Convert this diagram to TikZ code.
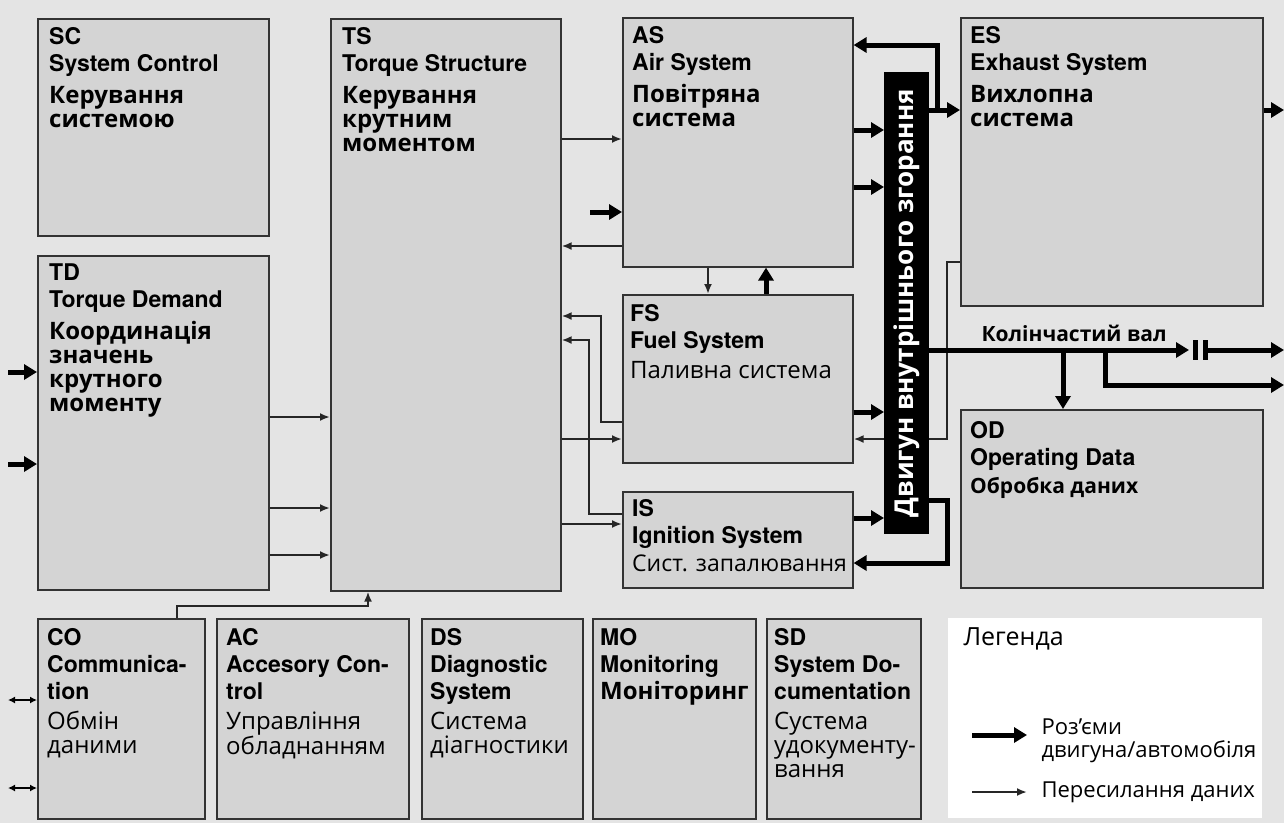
\documentclass[tikz,border=0pt]{standalone}
\usepackage{fontspec}
\setmainfont{Open Sans}
\newfontfamily\helv{TeX Gyre Heros}
\usetikzlibrary{arrows.meta,calc}
\definecolor{paper}{HTML}{E4E4E4}
\definecolor{panel}{HTML}{D4D4D4}
\definecolor{edge}{HTML}{333333}
\tikzset{
  blk/.style={rectangle,draw=edge,line width=1.6pt,fill=panel,anchor=north west,inner sep=0pt},
  lbl/.style={anchor=north west,align=left,inner sep=0pt,font=\bfseries\fontsize{24}{24}\selectfont},
  lblreg/.style={lbl,font=\mdseries\fontsize{24}{24}\selectfont},
  data/.style={-{Latex[length=10pt,width=8pt]},line width=2pt,black!85},
  power/.style={-{Triangle[length=13pt,width=15pt]},line width=5pt},
  both/.style={{Latex[length=7pt,width=7pt]}-{Latex[length=7pt,width=7pt]},line width=1.8pt}
}
\newcommand{\En}[1]{{\helv\bfseries\fontsize{23}{27}\selectfont #1}}

\begin{document}
\begin{tikzpicture}[x=1pt,y=-1pt]
  \useasboundingbox (0,0) rectangle (1284,823);
  \fill[paper] (0,0) rectangle (1284,823);

  % blocks
  \node[blk,minimum width=231,minimum height=217] (sc) at (37,18) {};
  \node[blk,minimum width=230,minimum height=572] (ts) at (330,18) {};
  \node[blk,minimum width=230,minimum height=249] (as) at (622,17) {};
  \node[blk,minimum width=230,minimum height=168] (fs) at (622,294) {};
  \node[blk,minimum width=230,minimum height=96] (is) at (622,491) {};
  \node[blk,minimum width=302,minimum height=288] (es) at (960,17) {};
  \node[blk,minimum width=302,minimum height=178] (od) at (960,409) {};
  \node[blk,minimum width=231,minimum height=334] (td) at (37,255) {};
  \node[blk,minimum width=167,minimum height=200] (co) at (37,618) {};
  \node[blk,minimum width=192,minimum height=200] (ac) at (216,618) {};
  \node[blk,minimum width=161,minimum height=200] (ds) at (421,618) {};
  \node[blk,minimum width=163,minimum height=200] (mo) at (592,618) {};
  \node[blk,minimum width=154,minimum height=200] (sd) at (766,618) {};
  \node[fill=white,anchor=north west,minimum width=314,minimum height=200,inner sep=0pt] (leg) at (948,618) {};

  % block texts
  \node[lbl] at ([shift={(12,9)}]sc.north west) {\En{SC}\\[3pt]\En{System Control}\\[8pt]Керування\\системою};
  \node[lbl] at ([shift={(12,9)}]ts.north west) {\En{TS}\\[3pt]\En{Torque Structure}\\[8pt]Керування\\крутним\\моментом};
  \node[lbl] at ([shift={(10,9)}]as.north west) {\En{AS}\\[3pt]\En{Air System}\\[8pt]Повітряна\\система};
  \node[lblreg] at ([shift={(8,10)}]fs.north west) {\En{FS}\\[3pt]\En{Fuel System}\\[6pt]Паливна система};
  \node[lblreg,font=\mdseries\fontsize{23}{24}\selectfont] at ([shift={(10,8)}]is.north west) {\En{IS}\\[3pt]\En{Ignition System}\\[4pt]Сист. запалювання};
  \node[lbl] at ([shift={(10,9)}]es.north west) {\En{ES}\\[3pt]\En{Exhaust System}\\[8pt]Вихлопна\\система};
  \node[lbl,font=\bfseries\fontsize{21}{24}\selectfont] at ([shift={(10,12)}]od.north west) {\En{OD}\\[3pt]\En{Operating Data}\\[4pt]Обробка даних};
  \node[lbl] at ([shift={(12,9)}]td.north west) {\En{TD}\\[3pt]\En{Torque Demand}\\[8pt]Координація\\значень\\крутного\\моменту};
  \node[lblreg] at ([shift={(10,10)}]co.north west) {\En{CO}\\[3pt]\En{Communica-}\\[3pt]\En{tion}\\[6pt]Обмін\\даними};
  \node[lblreg] at ([shift={(10,10)}]ac.north west) {\En{AC}\\[3pt]\En{Accesory Con-}\\[3pt]\En{trol}\\[6pt]Управління\\обладнанням};
  \node[lblreg] at ([shift={(9,10)}]ds.north west) {\En{DS}\\[3pt]\En{Diagnostic}\\[3pt]\En{System}\\[6pt]Система\\діагностики};
  \node[lbl] at ([shift={(8,10)}]mo.north west) {\En{MO}\\[3pt]\En{Monitoring}\\[3pt]Моніторинг};
  \node[lblreg] at ([shift={(8,10)}]sd.north west) {\En{SD}\\[3pt]\En{System Do-}\\[3pt]\En{cumentation}\\[6pt]Сустема\\удокументу-\\вання};

  % line from ES to FS runs behind the engine
  \draw[data] (es.west |- 0,262) -- (947,262) |- (fs.east |- 0,439);

  % engine
  \node[fill=black,anchor=north west,minimum width=45,minimum height=462,inner sep=0pt] (ice) at (884,72) {};
  \node[rotate=90,text=white,font=\bfseries\fontsize{26}{26}\selectfont] at (ice.center) {Двигун внутрішнього згорання};

  % data transfer
  \draw[data] (ts.east |- 0,139) -- (as.west |- 0,139);
  \draw[data] (as.west |- 0,246) -- (ts.east |- 0,246);
  \draw[data] (as.south -| 708,0) -- (fs.north -| 708,0);
  \draw[data] (fs.west |- 0,422) -- (601,422) |- (ts.east |- 0,316);
  \draw[data] (is.west |- 0,514) -- (589,514) |- (ts.east |- 0,340);
  \draw[data] (ts.east |- 0,439) -- (fs.west |- 0,439);
  \draw[data] (ts.east |- 0,524) -- (is.west |- 0,524);
  \draw[data] (td.east |- 0,417) -- (ts.west |- 0,417);
  \draw[data] (td.east |- 0,508) -- (ts.west |- 0,508);
  \draw[data] (td.east |- 0,555) -- (ts.west |- 0,555);
  \draw[data] (co.north -| 177,0) |- (368,606) -- (ts.south -| 368,0);

  % engine / vehicle connections
  \coordinate (asin) at (590,212);
  \coordinate (tdin1) at (8,372);
  \coordinate (tdin2) at (8,464);
  \coordinate (split) at (937,110);
  \coordinate (exh) at (1284,110);
  \draw[power] (asin) -- (as.west |- asin);
  \draw[power] (tdin1) -- (td.west |- tdin1);
  \draw[power] (tdin2) -- (td.west |- tdin2);
  \draw[power] (as.east |- 0,130) -- (ice.west |- 0,130);
  \draw[power] (as.east |- 0,187) -- (ice.west |- 0,187);
  \draw[power] (fs.north -| 766,0) -- (as.south -| 766,0);
  \draw[power] (fs.east |- 0,412) -- (ice.west |- 0,412);
  \draw[power] (is.east |- 0,518) -- (ice.west |- 0,518);
  \draw[power] (ice.east |- split) -- (es.west |- split);
  \draw[power] (split) |- (as.east |- 0,45);
  \draw[power] (ice.east |- 0,500) -- (947,500) |- (is.east |- 0,563);
  \draw[power] (es.east |- exh) -- (exh);

  % crankshaft
  \coordinate (crank) at (ice.east |- 0,350);
  \coordinate (clutch) at (1200,350);
  \coordinate (tap1) at (1063,350);
  \coordinate (tap2) at (1105,350);
  \coordinate (outA) at (1284,350);
  \coordinate (outB) at (1284,385);
  \draw[power] (crank) -- ([xshift=-11]clutch);
  \draw[line width=5pt] ([shift={(-5,-10)}]clutch) -- ([shift={(-5,10)}]clutch);
  \draw[line width=5pt] ([shift={(5,-10)}]clutch) -- ([shift={(5,10)}]clutch);
  \draw[power] ([xshift=5]clutch) -- (outA);
  \draw[power] (tap1) -- (od.north -| tap1);
  \draw[power] (tap2) |- (outB);
  \node[anchor=base west,font=\bfseries\fontsize{21}{21}\selectfont] (kv) at (978,341) {Колінчастий вал};

  % CO bus
  \coordinate (bus1) at (8,700);
  \coordinate (bus2) at (8,788);
  \draw[both] (bus1) -- (co.west |- bus1);
  \draw[both] (bus2) -- (co.west |- bus2);

  % legend
  \node[anchor=base west,font=\fontsize{25}{25}\selectfont] (legt) at (960,645) {Легенда};
  \coordinate (k1) at (972,735);
  \coordinate (k2) at (972,792);
  \draw[power] (k1) -- ++(55,0);
  \draw[data] (k2) -- ++(55,0);
  \node[anchor=base west,font=\fontsize{22}{23}\selectfont] (lk1) at (1038,734) {Роз’єми};
  \node[anchor=base west,font=\fontsize{22}{23}\selectfont] (lk2) at (1038,757) {двигуна/автомобіля};
  \node[anchor=base west,font=\fontsize{22}{23}\selectfont] (lk3) at (1038,797) {Пересилання даних};
\end{tikzpicture}
\end{document}
